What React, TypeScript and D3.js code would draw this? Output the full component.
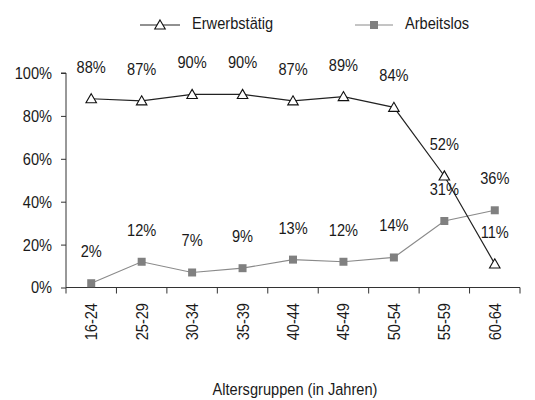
import React, { useRef, useEffect } from 'react'
import * as d3 from 'd3'

const categories = ['16-24', '25-29', '30-34', '35-39', '40-44', '45-49', '50-54', '55-59', '60-64']
const erwerbstaetig = [88, 87, 90, 90, 87, 89, 84, 52, 11]
const arbeitslos = [2, 12, 7, 9, 13, 12, 14, 31, 36]
const yTicks = [0, 20, 40, 60, 80, 100]

// no narrow font installed, so squeeze Liberation Sans horizontally
const FONT = '"Liberation Sans", Arial, sans-serif'
const TEXT = '#1a1a1a'
const FS = 17
const SQUEEZE = 0.86

export default function App() {
  const ref = useRef<SVGSVGElement>(null)

  useEffect(() => {
    const svg = d3.select(ref.current)
    svg.selectAll('*').remove()

    const x = d3.scaleBand<string>().domain(categories).range([66, 520]).padding(0)
    const y = d3.scaleLinear().domain([0, 100]).range([287.5, 73])
    const cx = (c: string) => (x(c) as number) + x.bandwidth() / 2

    const g = svg.append('g').attr('font-family', FONT).attr('fill', TEXT)

    const label = (
      parent: d3.Selection<SVGGElement, unknown, null, undefined>,
      tx: number, ty: number, s: string, anchor = 'middle', rot = 0, dy = '0'
    ) =>
      parent.append('text')
        .attr('transform', `translate(${tx},${ty}) rotate(${rot}) scale(${SQUEEZE},1)`)
        .attr('text-anchor', anchor).attr('dy', dy).attr('font-size', FS).text(s)

    // y axis
    const ya = g.append('g').attr('transform', 'translate(66,0)')
      .call(d3.axisLeft(y).tickValues(yTicks).tickSize(5).tickFormat(() => ''))
    ya.select('.domain').attr('stroke', '#333').attr('d', `M-5,${y(100)}H0V${y(0)}`)
    ya.selectAll('.tick line').attr('stroke', '#333')
    yTicks.forEach(t => label(g, 52, y(t), `${t}%`, 'end', 0, '0.35em'))

    // x axis
    const xa = g.append('g').attr('transform', `translate(0,${y(0)})`)
      .call(d3.axisBottom(x).tickSize(0).tickFormat(() => ''))
    xa.select('.domain').attr('stroke', '#333').attr('d', `M66,0H520`)
    xa.selectAll('.tick').remove()
    const bounds = [...categories.map(c => x(c) as number), 520]
    xa.selectAll('line.sep').data(bounds).enter().append('line')
      .attr('x1', d => d).attr('x2', d => d).attr('y1', 0).attr('y2', 6)
      .attr('stroke', '#333')
    categories.forEach(c => label(g, cx(c), 303, c, 'end', -90, '0.35em'))

    // lines
    const line = d3.line<number>().x((_, i) => cx(categories[i])).y(d => y(d))
    g.append('path').datum(arbeitslos).attr('d', line).attr('fill', 'none')
      .attr('stroke', '#8a8a8a').attr('stroke-width', 1.2)
    g.append('path').datum(erwerbstaetig).attr('d', line).attr('fill', 'none')
      .attr('stroke', '#222').attr('stroke-width', 1.2)

    const sq = d3.symbol(d3.symbolSquare, 64)
    const tri = d3.symbol(d3.symbolTriangle, 48)

    g.append('g').selectAll('path').data(arbeitslos).enter().append('path')
      .attr('d', sq).attr('transform', (d, i) => `translate(${cx(categories[i])},${y(d)})`)
      .attr('fill', '#808080')
    g.append('g').selectAll('path').data(erwerbstaetig).enter().append('path')
      .attr('d', tri).attr('transform', (d, i) => `translate(${cx(categories[i])},${y(d) + 1})`)
      .attr('fill', '#fff').attr('stroke', '#111').attr('stroke-width', 1.1)

    // value labels
    erwerbstaetig.forEach((d, i) => label(g, cx(categories[i]), y(d) - 26, `${d}%`))
    arbeitslos.forEach((d, i) => label(g, cx(categories[i]), y(d) - 26, `${d}%`))

    // legend
    const leg = g.append('g')
    leg.append('line').attr('x1', 140).attr('x2', 180).attr('y1', 25).attr('y2', 25).attr('stroke', '#222')
    leg.append('path').attr('d', tri).attr('transform', 'translate(160,26)')
      .attr('fill', '#fff').attr('stroke', '#111').attr('stroke-width', 1.1)
    label(leg, 192, 29, 'Erwerbstätig', 'start')
    leg.append('line').attr('x1', 355).attr('x2', 393).attr('y1', 25).attr('y2', 25).attr('stroke', '#8a8a8a')
    leg.append('path').attr('d', sq).attr('transform', 'translate(374,25)').attr('fill', '#808080')
    label(leg, 405, 29, 'Arbeitslos', 'start')

    label(g, 295, 395, 'Altersgruppen (in Jahren)')
  }, [])

  return (
    <svg
      ref={ref}
      width={535}
      height={400}
      style={{ position: 'absolute', left: 0, top: 0, background: '#fff' }}
    ></svg>
  )
}
